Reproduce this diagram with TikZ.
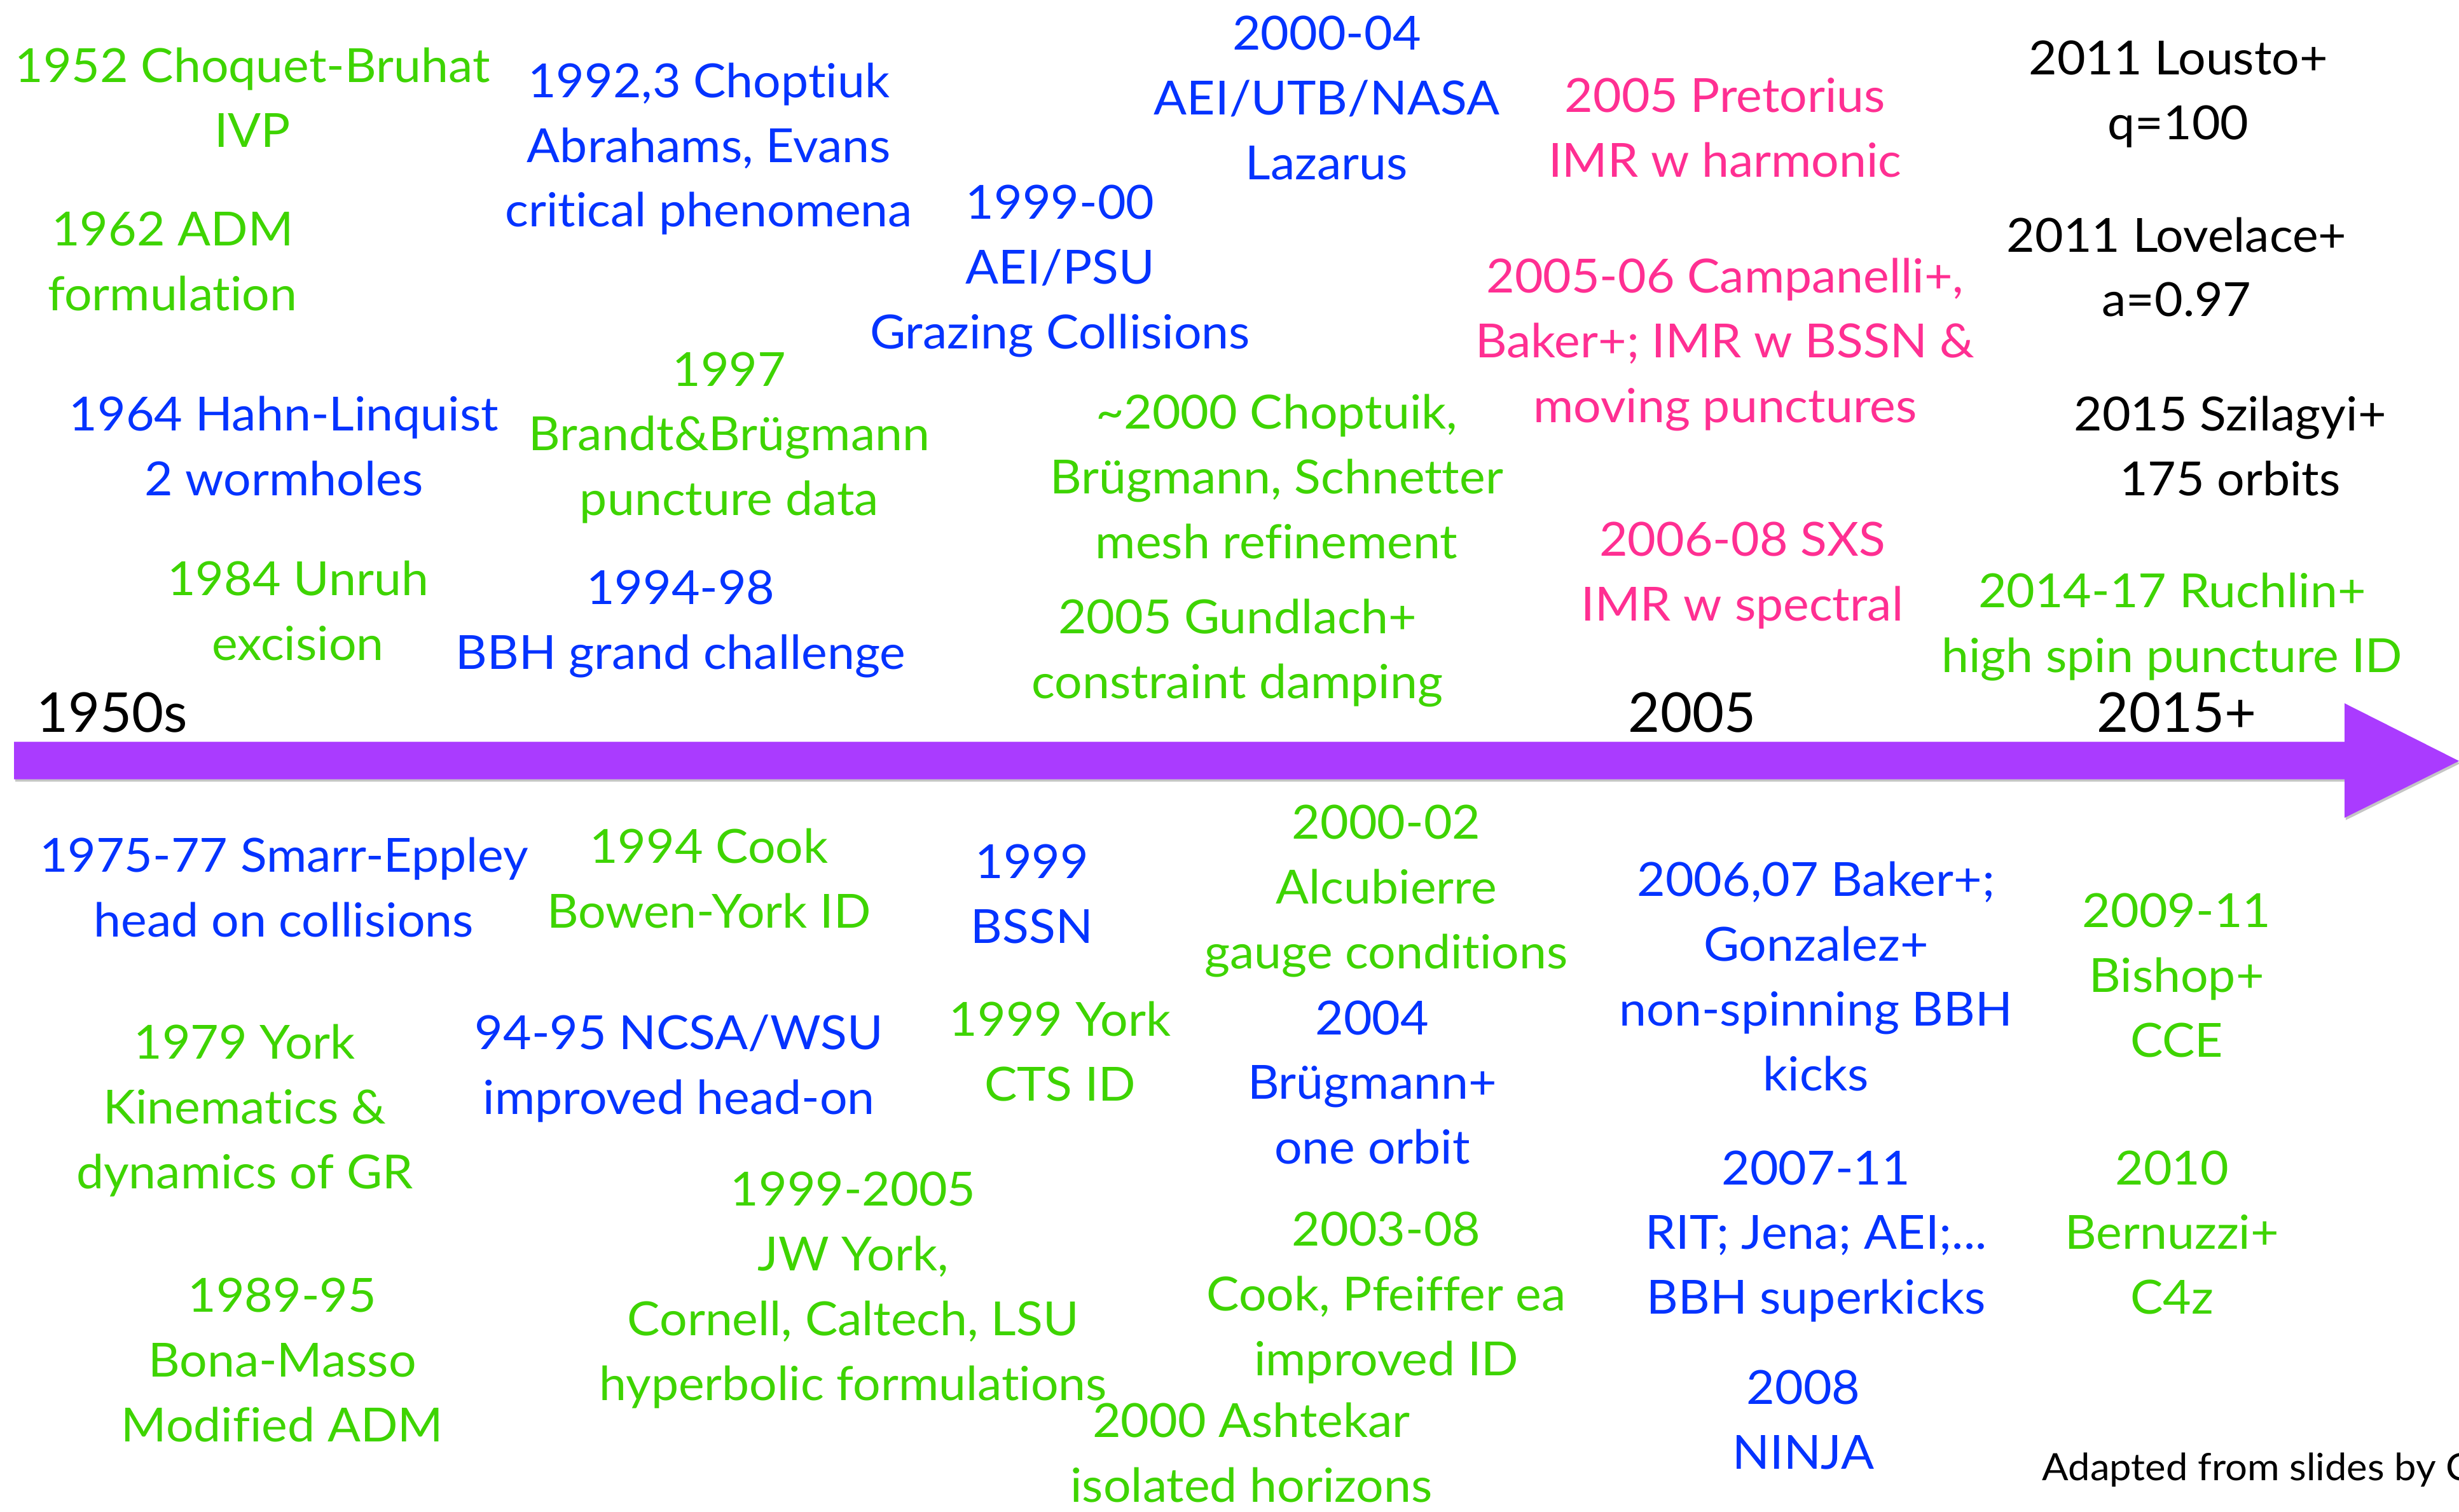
\documentclass[tikz,border=0pt]{standalone}
\usepackage{fontspec}
\setmainfont[FakeStretch=1.04, Ligatures={NoCommon}]{Lato}
\newfontfamily\erafont[Ligatures={NoCommon}]{Lato}
\usetikzlibrary{shadows}
\definecolor{cgreen}{RGB}{62,212,0}
\definecolor{cblue}{RGB}{4,51,255}
\definecolor{cpink}{RGB}{255,47,146}
\definecolor{cpurple}{RGB}{170,59,255}
\newcommand{\lst}{\rule[-9.9pt]{0pt}{41.3pt}}
\tikzset{
  lbl/.style={align=center, inner sep=0pt, font=\fontsize{30}{41.3}\selectfont},
  grn/.style={lbl, text=cgreen},
  blu/.style={lbl, text=cblue},
  pnk/.style={lbl, text=cpink},
  blk/.style={lbl, text=black},
  era/.style={inner sep=0pt, font=\erafont\fontsize{35}{42}\selectfont, text=black},
  credit/.style={inner sep=0pt, font=\fontsize{24}{30}\selectfont, text=black},
  timeline/.style={fill=cpurple, drop shadow={shadow xshift=0.8pt, shadow yshift=-1.5pt, opacity=0.45}}
}
\begin{document}
\begin{tikzpicture}[x=1pt,y=-1pt]
\path[use as bounding box, fill=white] (0,0) rectangle (1568,964);
% timeline arrow
\fill[timeline] (9,473) -- (1495,473) -- (1495,448.5) -- (1568,485.3) -- (1495,521.5) -- (1495,497) -- (9,497) -- cycle;
% era labels
\node[era, anchor=base west] (e1950) at (23,466.8) {1950s};
\node[era, anchor=base] (e2005) at (1079,466.8) {2005};
\node[era, anchor=base] (e2015) at (1388,466.8) {2015+};
% top
\node[grn] (t1) at (161,62.5) {\lst1952 Choquet-Bruhat\\\lst IVP};
\node[grn] (t2) at (110,166.5) {\lst1962 ADM\\\lst formulation};
\node[blu] (t3) at (181,284.5) {\lst1964 Hahn-Linquist\\\lst2 wormholes};
\node[grn] (t4) at (190,389.5) {\lst1984 Unruh\\\lst excision};
\node[blu] (t5) at (452,92.7) {\lst1992,3 Choptiuk\\\lst Abrahams, Evans\\\lst critical phenomena};
\node[grn] (t6) at (465,276.7) {\lst1997\\\lst Brandt\&Brügmann\\\lst puncture data};
\node[blu] (t7) at (434,395.5) {\lst1994-98\\\lst BBH grand challenge};
\node[blu] (t8) at (676,170.3) {\lst1999-00\\\lst AEI/PSU\\\lst Grazing Collisions};
\node[blu] (t9) at (846,62.3) {\lst2000-04\\\lst AEI/UTB/NASA\\\lst Lazarus};
\node[grn] (t10) at (814,304) {\lst\textasciitilde2000 Choptuik,\\\lst Brügmann, Schnetter\\\lst mesh refinement};
\node[grn] (t11) at (789,414) {\lst2005 Gundlach+\\\lst constraint damping};
\node[pnk] (t12) at (1100,81.5) {\lst2005 Pretorius\\\lst IMR w harmonic};
\node[pnk] (t13) at (1100,217.3) {\lst2005-06 Campanelli+,\\\lst Baker+; IMR w BSSN \&\\\lst moving punctures};
\node[pnk] (t14) at (1111,364.5) {\lst2006-08 SXS\\\lst IMR w spectral};
\node[blk] (t15) at (1389,57.5) {\lst2011 Lousto+\\\lst q=100};
\node[blk] (t16) at (1388,170.5) {\lst2011 Lovelace+\\\lst a=0.97};
\node[blk] (t17) at (1422,284.5) {\lst2015 Szilagyi+\\\lst175 orbits};
\node[grn] (t18) at (1385,397.5) {\lst2014-17 Ruchlin+\\\lst high spin puncture ID};
% bottom
\node[blu] (b1) at (181,566) {\lst1975-77 Smarr-Eppley\\\lst head on collisions};
\node[grn] (b2) at (156,706) {\lst1979 York\\\lst Kinematics \&\\\lst dynamics of GR};
\node[grn] (b3) at (180,867.3) {\lst1989-95\\\lst Bona-Masso\\\lst Modified ADM};
\node[grn] (b4) at (452,560.5) {\lst1994 Cook\\\lst Bowen-York ID};
\node[blu] (b5) at (433,679) {\lst94-95 NCSA/WSU\\\lst improved head-on};
\node[grn] (b6) at (544,820.3) {\lst1999-2005\\\lst JW York,\\\lst Cornell, Caltech, LSU\\\lst hyperbolic formulations};
\node[blu] (b7) at (658,570) {\lst1999\\\lst BSSN};
\node[grn] (b8) at (676,670.5) {\lst1999 York\\\lst CTS ID};
\node[grn] (b9) at (884,565.7) {\lst2000-02\\\lst Alcubierre\\\lst gauge conditions};
\node[blu] (b10) at (875,690.3) {\lst2004\\\lst Brügmann+\\\lst one orbit};
\node[grn] (b11) at (884,825) {\lst2003-08\\\lst Cook, Pfeiffer ea\\\lst improved ID};
\node[grn] (b12) at (798,926.5) {\lst2000 Ashtekar\\\lst isolated horizons};
\node[blu] (b13) at (1158,622.8) {\lst2006,07 Baker+;\\\lst Gonzalez+\\\lst non-spinning BBH\\\lst kicks};
\node[blu] (b14) at (1158,786) {\lst2007-11\\\lst RIT; Jena; AEI;...\\\lst BBH superkicks};
\node[blu] (b15) at (1150,905.5) {\lst2008\\\lst NINJA};
\node[grn] (b16) at (1388,622) {\lst2009-11\\\lst Bishop+\\\lst CCE};
\node[grn] (b17) at (1385,786) {\lst2010\\\lst Bernuzzi+\\\lst C4z};
% credit
\node[credit, anchor=base west] (credit) at (1302,944) {Adapted from slides by C};
\end{tikzpicture}
\end{document}
